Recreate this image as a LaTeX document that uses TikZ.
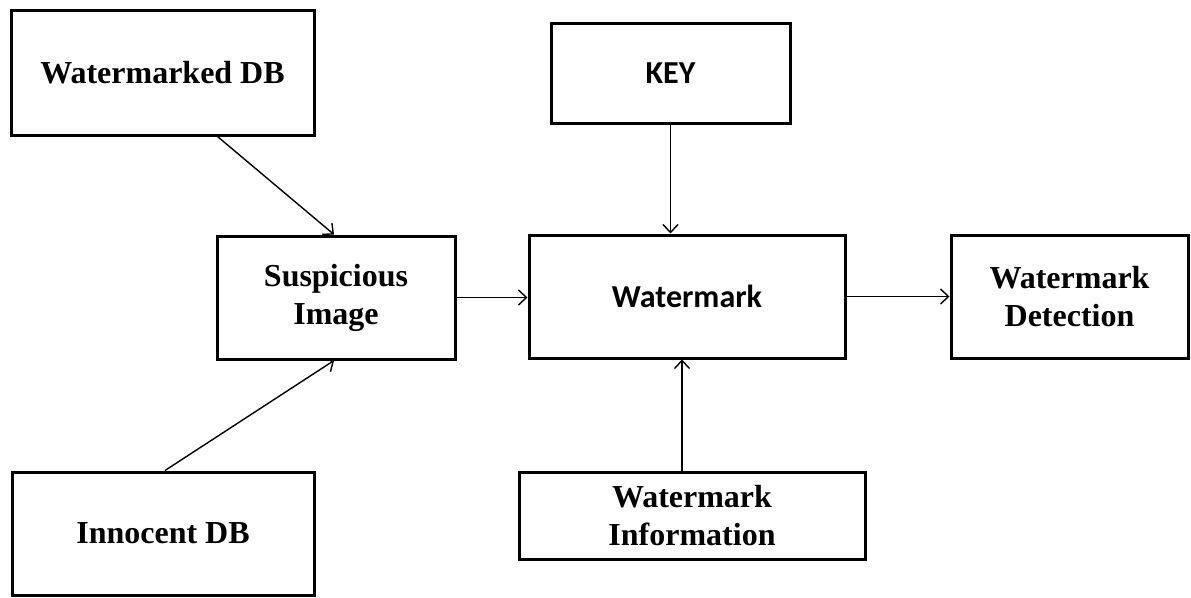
\documentclass[tikz,border=0pt]{standalone}
\usepackage{fontspec}
\setmainfont{Liberation Serif}
\newfontfamily\calfont{Carlito}
\usetikzlibrary{arrows.meta,calc}
\tikzset{
  dbbox/.style={draw, line width=3pt, inner sep=0pt, align=center,
    font=\fontsize{32}{38}\selectfont\bfseries},
  wmbox/.style={dbbox, font=\calfont\fontsize{32}{38}\selectfont\bfseries},
  arr/.style={-{Straight Barb[length=8pt,width=15pt]}, line width=1.4pt},
}

\begin{document}
\begin{tikzpicture}[x=1pt, y=-1pt]
  \useasboundingbox (0,0) rectangle (1191,597);
  % boxes
  \node[dbbox, minimum width=303pt, minimum height=125pt] (wdb) at (162.5,72.5) {Watermarked DB};
  \node[dbbox, minimum width=302pt, minimum height=123pt] (idb) at (163,533.5) {Innocent DB};
  \node[dbbox, minimum width=238pt, minimum height=123pt] (susp) at (336,297.5) {Suspicious\\Image};
  \node[wmbox, minimum width=239pt, minimum height=100pt] (key) at (670.5,73) {KEY};
  \node[wmbox, minimum width=316pt, minimum height=123pt] (wm) at (687,296.5) {Watermark};
  \node[dbbox, minimum width=346pt, minimum height=87pt] (winfo) at (692,515.5) {Watermark\\Information};
  \node[dbbox, minimum width=237pt, minimum height=123pt] (det) at (1069.5,296.5) {Watermark\\Detection};
  % connectors
  \draw[arr] ([xshift=55pt]wdb.south) -- ([xshift=-2pt]susp.north);
  \draw[arr] ([xshift=2pt]idb.north) -- ([xshift=-2pt]susp.south);
  \draw[arr] (susp.east) -- (susp.east -| wm.west);
  \draw[arr] (key.south) -- (key.south |- wm.north);
  \draw[arr] ([xshift=-10pt]winfo.north) -- ([xshift=-10pt]winfo.north |- wm.south);
  \draw[arr] (wm.east) -- (det.west);
\end{tikzpicture}
\end{document}
